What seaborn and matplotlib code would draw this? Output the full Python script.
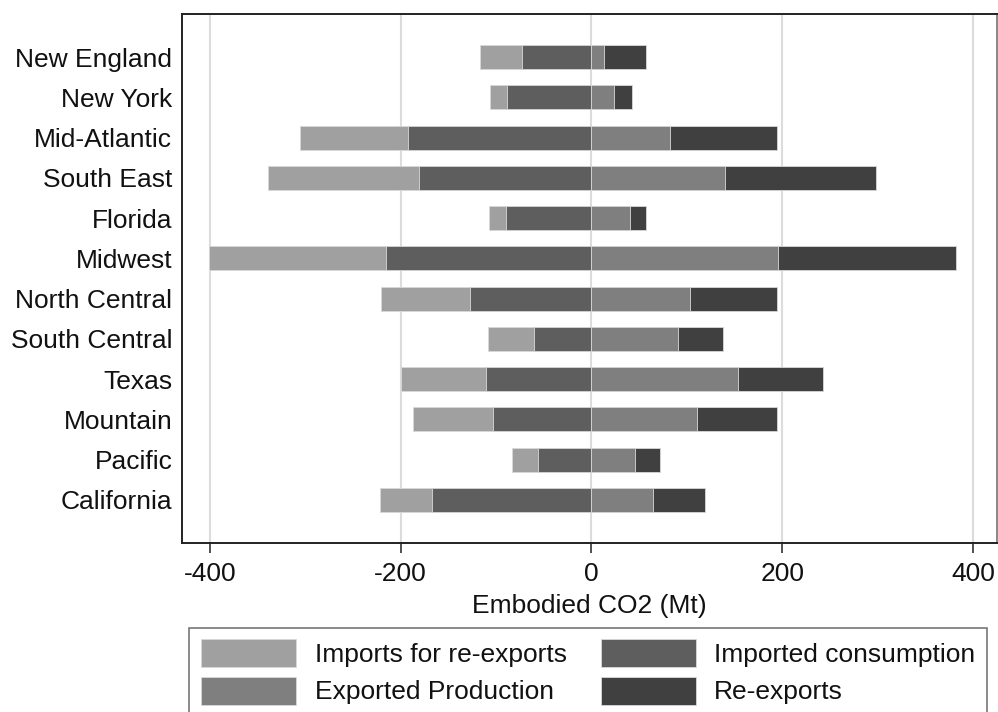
import matplotlib
matplotlib.use("Agg")
import matplotlib.pyplot as plt
import seaborn as sns
import pandas as pd

# Embodied CO2 flows by US region (Mt)
regions = ["New England", "New York", "Mid-Atlantic", "South East", "Florida",
           "Midwest", "North Central", "South Central", "Texas", "Mountain",
           "Pacific", "California"]
imported_consumption = [73, 88, 192, 181, 90, 215, 127, 60, 110, 103, 56, 167]
imports_for_reexports = [44, 18, 113, 158, 17, 186, 93, 48, 90, 84, 27, 55]
exported_production = [13, 24, 82, 140, 40, 195, 103, 91, 154, 111, 46, 65]
re_exports = [44, 19, 112, 158, 17, 187, 91, 47, 89, 83, 26, 54]

df = pd.DataFrame({
    "region": regions,
    "ic": imported_consumption,
    "ire": imports_for_reexports,
    "ep": exported_production,
    "re": re_exports,
})
# cumulative extents for stacking (outer segment drawn first, inner on top)
df["neg_outer"] = -(df["ic"] + df["ire"])
df["neg_inner"] = -df["ic"]
df["pos_outer"] = df["ep"] + df["re"]
df["pos_inner"] = df["ep"]

sns.set_theme(style="white")
plt.rcParams["font.family"] = ["Liberation Sans", "DejaVu Sans"]

c_ire = "#a0a0a0"
c_ic = "#5e5e5e"
c_ep = "#7f7f7f"
c_re = "#404040"

fig = plt.figure(figsize=(9.98, 7.12), dpi=100)
ax = fig.add_axes([0.1824, 0.2374, 0.8166, 0.7429])

bar_kw = dict(orient="h", width=0.6, edgecolor="#d8d8d8", linewidth=0.6,
              ax=ax, zorder=3)
sns.barplot(data=df, x="neg_outer", y="region", color=c_ire,
            label="Imports for re-exports", saturation=1, **bar_kw)
sns.barplot(data=df, x="neg_inner", y="region", color=c_ic,
            label="Imported consumption", saturation=1, **bar_kw)
sns.barplot(data=df, x="pos_outer", y="region", color=c_re,
            label="Re-exports", saturation=1, **bar_kw)
sns.barplot(data=df, x="pos_inner", y="region", color=c_ep,
            label="Exported Production", saturation=1, **bar_kw)

ax.set_xlim(-429, 425)
ax.set_ylim(len(regions) - 1 + 1.07, -1.07)
ax.set_xticks([-400, -200, 0, 200, 400])
ax.set_xticklabels(["-400", "-200", "0", "200", "400"])
ax.xaxis.grid(True, color="#dcdcdc", linewidth=1.5, zorder=0)
ax.yaxis.grid(False)
ax.set_axisbelow(True)

ax.set_xlabel("Embodied CO2 (Mt)", fontsize=19, labelpad=6, color="#111111")
ax.set_ylabel("")
ax.tick_params(axis="x", direction="out", length=7, width=1.2,
               color="#333333", labelsize=19, pad=6.5, labelcolor="#111111")
ax.tick_params(axis="y", length=0, labelsize=19, pad=7, labelcolor="#111111")
ax.tick_params(axis="x", bottom=True)

for side, sp in ax.spines.items():
    sp.set_visible(True)
    sp.set_color("#222222")
    sp.set_linewidth(1.4)
ax.spines["right"].set_color("#888888")

handles, labels = ax.get_legend_handles_labels()
lookup = dict(zip(labels, handles))
order = ["Imports for re-exports", "Exported Production",
         "Imported consumption", "Re-exports"]
leg = ax.legend([lookup[k] for k in order], order, ncol=2,
                loc="upper center", bbox_to_anchor=(0.4985, -0.1600),
                fontsize=19, frameon=True, fancybox=False,
                handlelength=3.6, handleheight=1.25, handletextpad=0.7,
                columnspacing=1.3, labelspacing=0.35, borderpad=0.45,
                borderaxespad=0)
leg.get_frame().set_edgecolor("#555555")
leg.get_frame().set_linewidth(1.2)
for t in leg.get_texts():
    t.set_color("#111111")

fig.savefig("out.png", dpi=100, facecolor="white")
